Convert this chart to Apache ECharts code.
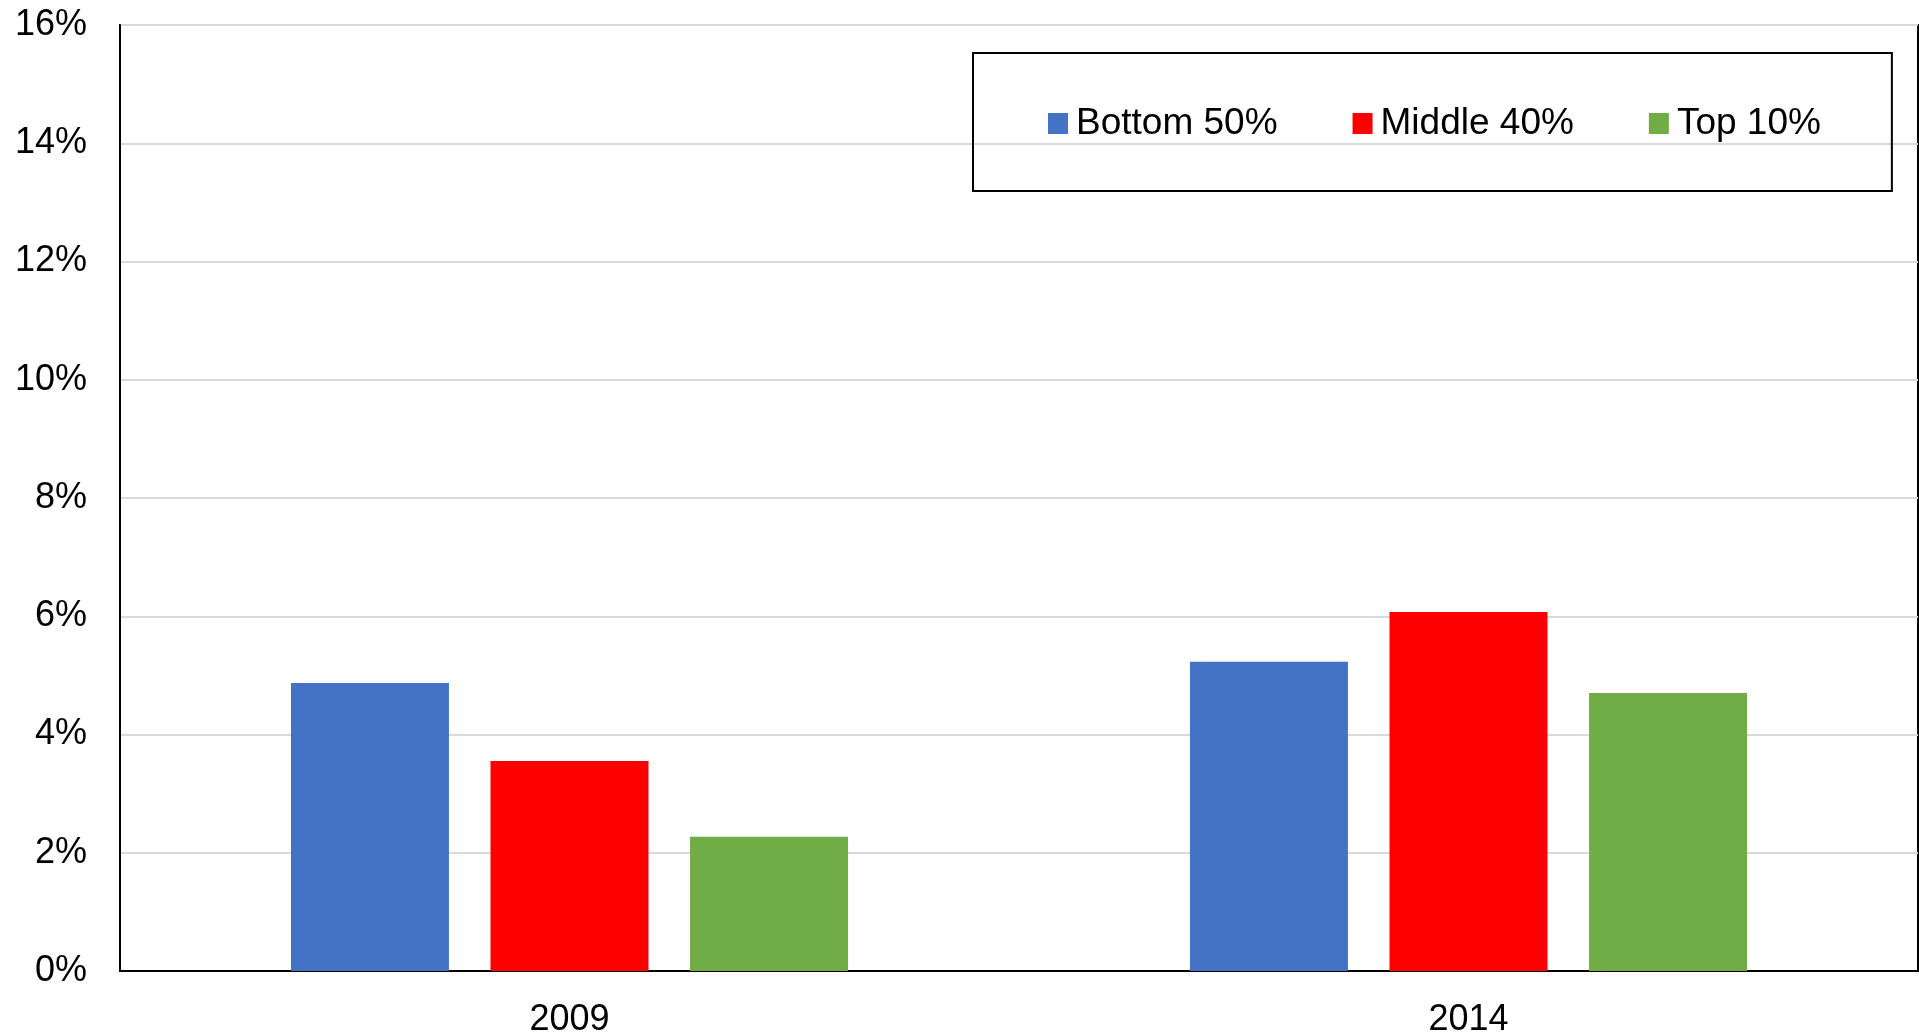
<!DOCTYPE html>
<html>
<head>
<meta charset="utf-8">
<script src="https://cdn.jsdelivr.net/npm/echarts@6/dist/echarts.min.js"></script>
<style>html,body{margin:0;padding:0;background:#fff}#c{width:1919px;height:1033px}</style>
</head>
<body>
<div id="c"></div>
<script>
const categories = ['2009', '2014'];
const seriesNames = ['Bottom 50%', 'Middle 40%', 'Top 10%'];
const bottom50 = [4.87, 5.23];
const middle40 = [3.55, 6.07];
const top10 = [2.27, 4.70];
const yTicks = [0, 2, 4, 6, 8, 10, 12, 14, 16];
const colors = ['#4472C4', '#FF0000', '#70AD47'];

const FONT = "'Liberation Sans', Arial, sans-serif";
const chart = echarts.init(document.getElementById('c'));
const values = [bottom50, middle40, top10];
const series = seriesNames.map((n, i) => ({
  name: n, type: 'bar', data: values[i], barWidth: 158, barGap: '26.3%',
  itemStyle: { color: colors[i] }
}));

chart.setOption({
  animation: false,
  backgroundColor: '#fff',
  textStyle: { fontFamily: FONT },
  grid: { left: 120, right: 1, top: 25, bottom: 62, show: true, borderColor: '#000', borderWidth: 2, containLabel: false, outerBoundsMode: 'none' },
  legend: {
    data: seriesNames,
    left: 973, top: 53,
    orient: 'horizontal',
    icon: 'rect', itemWidth: 20, itemHeight: 21, itemGap: 75,
    padding: [52, 71, 49, 75],
    borderColor: '#000', borderWidth: 2,
    textStyle: { fontSize: 37, color: '#000', fontFamily: FONT, padding: [0, 0, 0, 3] }
  },
  xAxis: {
    type: 'category', data: categories,
    axisLine: { lineStyle: { color: '#000', width: 2 } },
    axisTick: { show: false },
    axisLabel: { fontSize: 36, color: '#000', margin: 31, fontFamily: FONT }
  },
  yAxis: {
    type: 'value', min: yTicks[0], max: yTicks[yTicks.length - 1], interval: 2,
    axisLine: { show: true, lineStyle: { color: '#000', width: 2 } },
    axisTick: { show: false },
    splitLine: { lineStyle: { color: '#d9d9d9', width: 2 } },
    axisLabel: { fontSize: 36, color: '#000', margin: 33, padding: [11, 0, 0, 0], formatter: '{value}%', fontFamily: FONT }
  },
  series: series
});
</script>
</body>
</html>
